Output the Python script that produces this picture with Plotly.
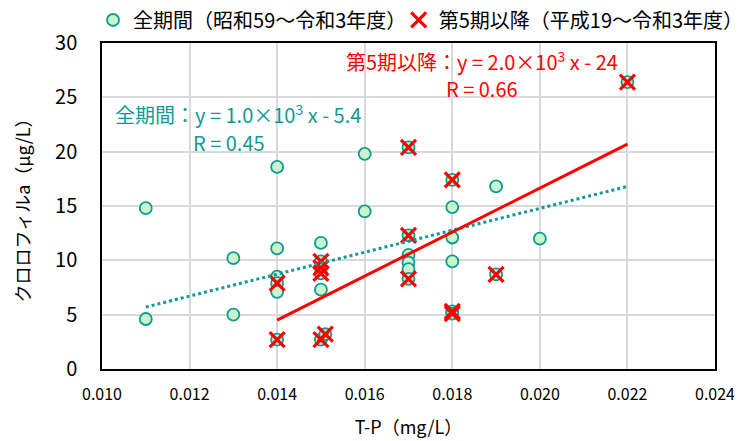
import plotly.graph_objects as go

# 全期間（昭和59～令和3年度）
all_tp = [0.011, 0.011, 0.013, 0.013,
          0.014, 0.014, 0.014, 0.014, 0.014, 0.014,
          0.015, 0.015, 0.015, 0.015, 0.015, 0.015, 0.0151,
          0.016, 0.016,
          0.017, 0.017, 0.017, 0.017, 0.017, 0.017,
          0.018, 0.018, 0.018, 0.018, 0.018, 0.018,
          0.019, 0.019, 0.020, 0.022]
all_chl = [14.8, 4.6, 10.2, 5.0,
           18.6, 11.1, 8.5, 7.9, 7.1, 2.7,
           11.6, 9.9, 9.3, 8.8, 7.3, 2.7, 3.2,
           19.8, 14.5,
           20.4, 12.3, 10.5, 9.8, 9.2, 8.3,
           17.4, 14.9, 12.1, 9.9, 5.3, 5.1,
           16.8, 8.7, 12.0, 26.4]

# 第5期以降（平成19～令和3年度）
p5_tp = [0.014, 0.014, 0.015, 0.015, 0.015, 0.015, 0.0151,
         0.017, 0.017, 0.017, 0.018, 0.018, 0.018, 0.019, 0.022]
p5_chl = [7.9, 2.7, 9.9, 9.3, 8.8, 2.7, 3.2,
          20.4, 12.3, 8.3, 17.4, 5.3, 5.1, 8.7, 26.4]

# trend lines (start / end)
trend_all_tp = [0.011, 0.022]
trend_all_chl = [5.7, 16.8]
trend_p5_tp = [0.014, 0.022]
trend_p5_chl = [4.5, 20.7]

x_ticks = [0.010, 0.012, 0.014, 0.016, 0.018, 0.020, 0.022, 0.024]
y_ticks = [0, 5, 10, 15, 20, 25, 30]

TEAL = "#0e9a96"
RED = "#ff0000"
FONT = "Noto Sans CJK JP"

fig = go.Figure()
fig.add_trace(go.Scatter(
    x=all_tp, y=all_chl, mode="markers", name="全期間（昭和59～令和3年度）",
    legend="legend",
    marker=dict(symbol="circle", size=12, color="#c8f5cc",
                line=dict(color=TEAL, width=1.8))))
fig.add_trace(go.Scatter(
    x=p5_tp, y=p5_chl, mode="markers", name="第5期以降（平成19～令和3年度）",
    legend="legend2",
    marker=dict(symbol="x-thin", size=15, color=RED,
                line=dict(color=RED, width=3.2))))
fig.add_trace(go.Scatter(
    x=trend_all_tp, y=trend_all_chl, mode="lines", showlegend=False, hoverinfo="skip",
    line=dict(color=TEAL, width=3, dash="dot")))
fig.add_trace(go.Scatter(
    x=trend_p5_tp, y=trend_p5_chl, mode="lines", showlegend=False, hoverinfo="skip",
    line=dict(color=RED, width=3)))

ANN = 20
fig.add_annotation(x=0.01025, y=23.5, xref="x", yref="y", xanchor="left",
                   text="全期間：y = 1.0×10<sup>3</sup> x - 5.4",
                   showarrow=False, font=dict(color=TEAL, size=ANN, family=FONT))
fig.add_annotation(x=0.0129, y=20.8, xref="x", yref="y", xanchor="center",
                   text="R = 0.45",
                   showarrow=False, font=dict(color=TEAL, size=ANN, family=FONT))
fig.add_annotation(x=0.01867, y=28.3, xref="x", yref="y", xanchor="center",
                   text="第5期以降：y = 2.0×10<sup>3</sup> x - 24",
                   showarrow=False, font=dict(color=RED, size=ANN, family=FONT))
fig.add_annotation(x=0.01867, y=25.8, xref="x", yref="y", xanchor="center",
                   text="R = 0.66",
                   showarrow=False, font=dict(color=RED, size=ANN, family=FONT))

fig.update_xaxes(range=[0.010, 0.024], tickvals=x_ticks,
                 ticktext=[f"{v:.3f}" for v in x_ticks],
                 showgrid=True, gridcolor="#d9d9d9", gridwidth=1.5,
                 showline=True, linecolor="black", linewidth=1.5, mirror=True,
                 ticks="", zeroline=False, ticklabelstandoff=10,
                 ticklabeloverflow="allow",
                 title=dict(text="T-P（mg/L）", font=dict(size=18, family=FONT), standoff=17),
                 tickfont=dict(size=16, family=FONT, color="black"))
fig.update_yaxes(range=[0, 30], tickvals=y_ticks,
                 showgrid=True, gridcolor="#d9d9d9", gridwidth=1.5,
                 showline=True, linecolor="black", linewidth=1.5, mirror=True,
                 ticks="", zeroline=False, ticklabelstandoff=19,
                 title=dict(text="クロロフィルa（μg/L）", font=dict(size=18, family=FONT), standoff=20),
                 tickfont=dict(size=20, family=FONT, color="black"))

leg_common = dict(orientation="h", xanchor="left", y=1.0706, yanchor="middle",
                  font=dict(size=20, family=FONT), itemwidth=30,
                  bgcolor="rgba(0,0,0,0)")
fig.update_layout(
    width=734, height=433,
    margin=dict(l=94, r=27, t=35, b=72, autoexpand=False),
    plot_bgcolor="white", paper_bgcolor="white",
    font=dict(family=FONT, color="black"),
    legend=dict(x=-0.0146, **leg_common),
    legend2=dict(x=0.484, **leg_common),
)

fig.write_html("out.html")
